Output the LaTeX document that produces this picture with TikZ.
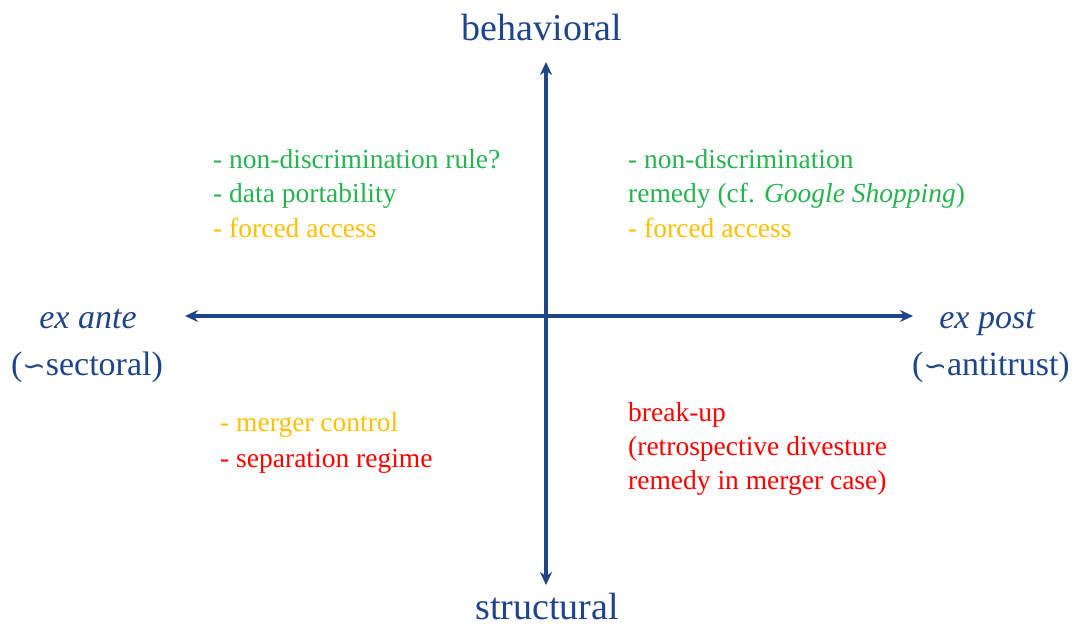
\documentclass[tikz,border=0pt]{standalone}
\usepackage{fontspec}
\setmainfont{Liberation Serif}
\newfontfamily\symfnt{DejaVu Sans}
\usetikzlibrary{arrows.meta}
\definecolor{axisblue}{RGB}{30,68,138}
\definecolor{grn}{RGB}{40,178,80}
\definecolor{gold}{RGB}{255,192,0}
\definecolor{rd}{RGB}{255,0,0}
\tikzset{
  axis/.style={draw=axisblue, line width=3.2pt, {Stealth[length=13pt,width=12pt]}-{Stealth[length=13pt,width=12pt]}},
  axlabel/.style={text=axisblue, font=\fontsize{34}{39}\selectfont, inner sep=0pt, text height=24pt, text depth=8pt},
  item/.style={anchor=west, inner sep=0pt, font=\fontsize{27.5}{32}\selectfont, text height=19pt, text depth=7pt},
}
\begin{document}
\begin{tikzpicture}[x=1pt,y=-1pt]
\useasboundingbox (0,0) rectangle (1076,628);
% axes
\coordinate (L) at (185,316);
\coordinate (R) at (913,316);
\coordinate (T) at (546,62);
\coordinate (B) at (546,585);
\draw[axis] (L) -- (R);
\draw[axis] (B) -- (T);
% axis labels
\node[axlabel, font=\fontsize{38}{44}\selectfont, text height=27pt, text depth=9pt] (beh) at (542,32) {behavioral};
\node[axlabel, font=\fontsize{38}{44}\selectfont, text height=27pt, text depth=9pt] (str) at (547,610) {structural};
\node[axlabel, font=\fontsize{34}{39}\itshape] (exante) at (88,320) {ex ante};
\node[axlabel] (sect) at (87,367) {({\symfnt\fontsize{28}{32}\selectfont ∽}sectoral)};
\node[axlabel, font=\fontsize{34}{39}\itshape] (expost) at (987,320) {ex post};
\node[axlabel] (anti) at (991,367) {({\symfnt\fontsize{28}{32}\selectfont ∽}antitrust)};
% top-left
\node[item, text=grn] (tl1) at (213,163) {- non-discrimination rule?};
\node[item, text=grn] (tl2) at (213,197) {- data portability};
\node[item, text=gold] (tl3) at (213,232) {- forced access};
% top-right
\node[item, text=grn] (tr1) at (628,163) {- non-discrimination};
\node[item, text=grn] (tr2) at (628,197) {remedy (cf. \textit{Google Shopping})};
\node[item, text=gold] (tr3) at (628,232) {- forced access};
% bottom-left
\node[item, text=gold] (bl1) at (220,425) {- merger control};
\node[item, text=rd] (bl2) at (220,461) {- separation regime};
% bottom-right
\node[item, text=rd] (br1) at (628,415) {break-up};
\node[item, text=rd] (br2) at (628,449) {(retrospective divesture};
\node[item, text=rd] (br3) at (628,483) {remedy in merger case)};
\end{tikzpicture}
\end{document}
